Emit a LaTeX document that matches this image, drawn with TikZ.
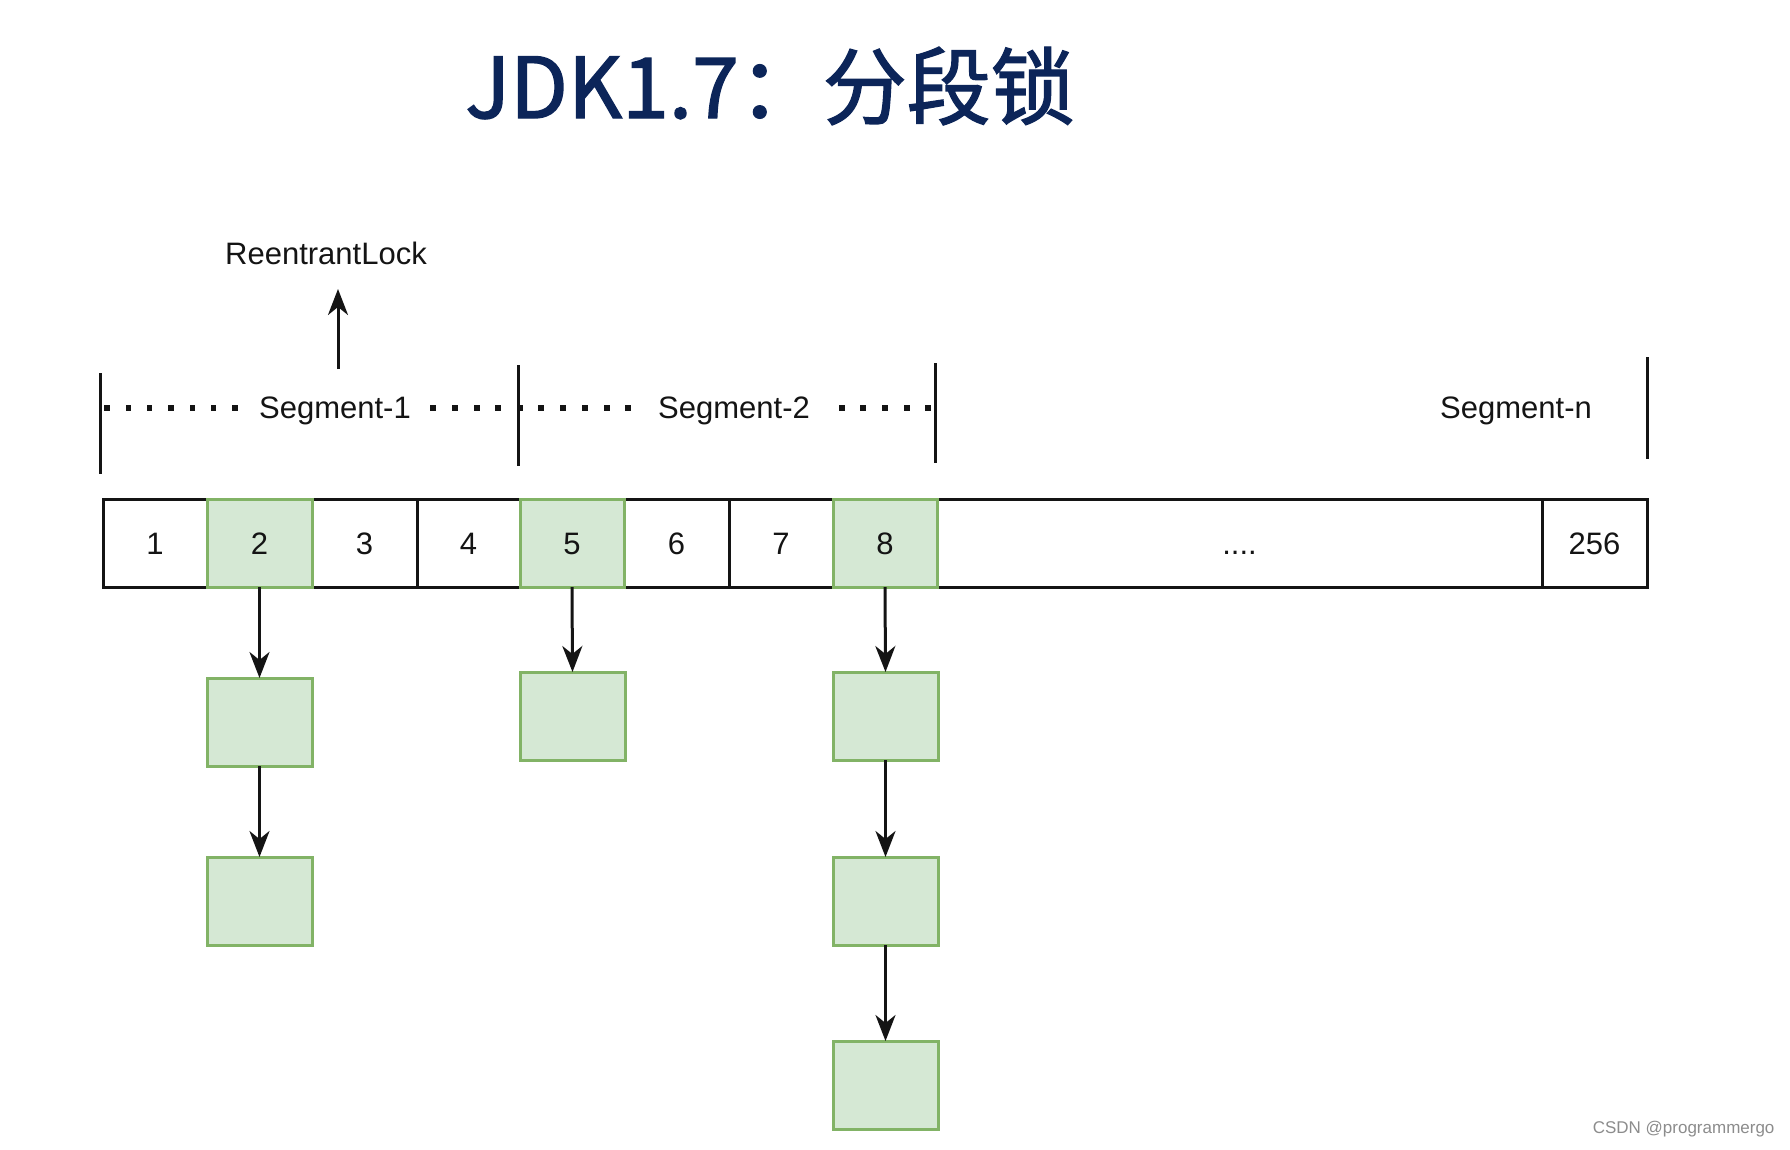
\documentclass[tikz,border=0pt]{standalone}
\usepackage{fontspec}
\setmainfont{Liberation Sans}
\newfontfamily\cjk[FakeBold=1.6]{Noto Sans CJK SC}
\usetikzlibrary{arrows.meta}
\definecolor{gfill}{HTML}{D5E8D4}
\definecolor{gline}{HTML}{82B366}
\definecolor{navy}{RGB}{12,37,89}
\definecolor{ink}{RGB}{20,20,20}
\begin{document}
\begin{tikzpicture}[x=1pt,y=-1pt,
  lbl/.style={font=\fontsize{31}{31}\selectfont, text=ink},
  cell/.style={draw=ink, line width=3pt, fill=white, inner sep=0pt, outer sep=0pt,
     minimum height=88pt, anchor=north west, text height=22pt, text depth=0pt,
     font=\fontsize{31}{31}\selectfont, text=ink},
  gcell/.style={cell, draw=gline, fill=gfill},
  gbox/.style={draw=gline, fill=gfill, line width=3pt, inner sep=0pt, outer sep=0pt,
     minimum width=105pt, minimum height=88pt, anchor=north west},
  arr/.style={draw=ink, line width=3pt, -{Stealth[length=26pt,width=20pt,inset=8pt]}},
  bar/.style={draw=ink, line width=3pt},
  dotc/.style={fill=ink, draw=none}
]
\useasboundingbox (0,0) rectangle (1790,1149);
\fill[white] (0,0) rectangle (1790,1149);

% title
\node[font=\cjk\fontsize{84}{84}\selectfont, text=navy] (title) at (770,86) {JDK1.7：分段锁};

% ReentrantLock
\node[lbl] (lock) at (326,253) {ReentrantLock};
\coordinate (lockfrom) at (338,369);
\coordinate (lockto) at (338,289);
\draw[arr] (lockfrom) -- (lockto);

% segment bars
\coordinate (s1t) at (100,373); \coordinate (s1b) at (100,474);
\coordinate (s2t) at (518,365); \coordinate (s2b) at (518,466);
\coordinate (s3t) at (935,363); \coordinate (s3b) at (935,463);
\coordinate (s4t) at (1647,357); \coordinate (s4b) at (1647,459);
\draw[bar] (s1t) -- (s1b);
\draw[bar] (s2t) -- (s2b);
\draw[bar] (s3t) -- (s3b);
\draw[bar] (s4t) -- (s4b);

% dots
\foreach \x in {107,128.3,149.6,171,192.3,213.6,235} \fill[dotc] (\x-2.8,405.2) rectangle ++(5.6,5.6);
\foreach \x in {433,455,477,498,520} \fill[dotc] (\x-2.8,405.2) rectangle ++(5.6,5.6);
\foreach \x in {541,563,585,607,628} \fill[dotc] (\x-2.8,405.2) rectangle ++(5.6,5.6);
\foreach \x in {842,863,885,907,928} \fill[dotc] (\x-2.8,405.2) rectangle ++(5.6,5.6);

\node[lbl] (seg1) at (335,411) {Segment-1};
\node[lbl] (seg2) at (734,411) {Segment-2};
\node[lbl] (segn) at (1516,411) {Segment-n};

% array cells
\node[cell, minimum width=104pt] (c1) at (103,499) {1};
\node[cell, minimum width=105pt] (c3) at (312,499) {3};
\node[cell, minimum width=103pt] (c4) at (417,499) {4};
\node[cell, minimum width=105pt] (c6) at (624,499) {6};
\node[cell, minimum width=104pt] (c7) at (729,499) {7};
\node[cell, minimum width=605pt] (cd) at (937,499) {....};
\node[cell, minimum width=105pt] (c256) at (1542,499) {256};
\node[gcell, minimum width=105pt] (c2) at (207,499) {2};
\node[gcell, minimum width=104pt] (c5) at (520,499) {5};
\node[gcell, minimum width=104pt] (c8) at (833,499) {8};

% green list boxes
\node[gbox] (b21) at (207,678) {};
\node[gbox] (b22) at (207,857) {};
\node[gbox] (b51) at (520,672) {};
\node[gbox] (b81) at (833,672) {};
\node[gbox] (b82) at (833,857) {};
\node[gbox] (b83) at (833,1041) {};

\draw[arr] (c2.south) -- (b21.north);
\draw[arr] (b21.south) -- (b22.north);
\draw[arr] (c5.south) -- (b51.north);
\draw[arr] (c8.south) -- (b81.north);
\draw[arr] (b81.south) -- (b82.north);
\draw[arr] (b82.south) -- (b83.north);

% watermark
\node[font=\fontsize{17}{17}\selectfont, text=black!45, anchor=east] (wm) at (1778,1129) {CSDN @programmergo};
\end{tikzpicture}
\end{document}
